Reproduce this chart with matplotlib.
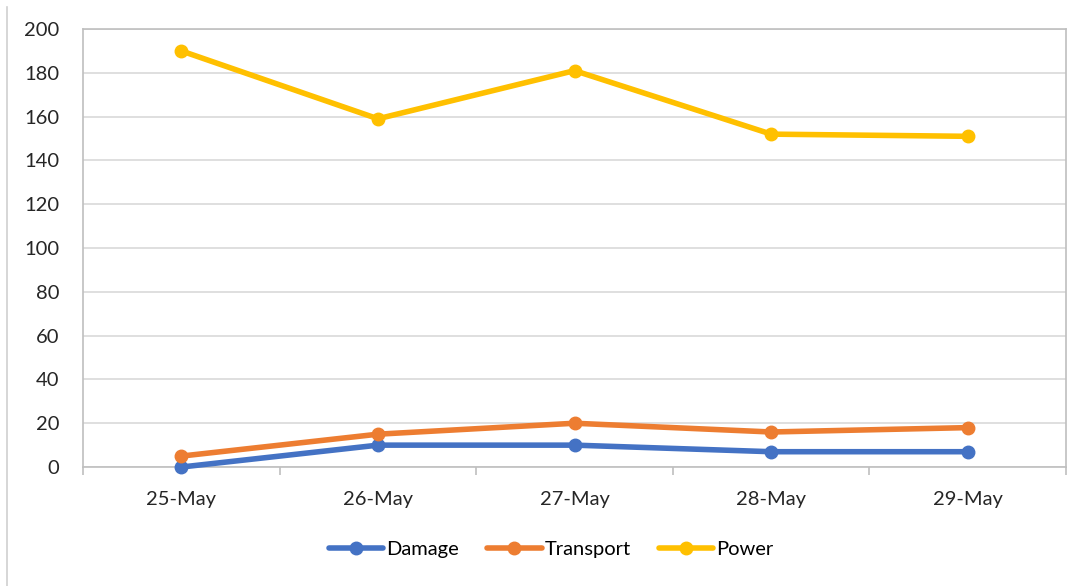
"""Excel-style line chart of daily incident counts."""

import matplotlib

matplotlib.use("Agg")
import matplotlib.pyplot as plt
import numpy as np
from matplotlib.lines import Line2D

dates = ["25-May", "26-May", "27-May", "28-May", "29-May"]
damage = [0, 10, 10, 7, 7]
transport = [5, 15, 20, 16, 18]
power = [190, 159, 181, 152, 151]

series = [
    ("Damage", damage, "#4472C4"),
    ("Transport", transport, "#ED7D31"),
    ("Power", power, "#FFC000"),
]

plt.rcParams["font.family"] = ["Lato", "DejaVu Sans"]

fig = plt.figure(figsize=(10.81, 5.86), dpi=100)
ax = fig.add_axes([0.0768, 0.203, 0.9094, 0.7475])

x = np.arange(len(dates))
for name, values, color in series:
    ax.plot(x, values, color=color, linewidth=4, marker="o", markersize=9,
            label=name, solid_capstyle="round", zorder=3, clip_on=False)

ax.set_xlim(-0.5, len(dates) - 0.5)
ax.set_ylim(0, 200)
ax.set_yticks(range(0, 201, 20))
ax.set_xticks(x)
ax.set_xticklabels(dates)
ax.set_xticks(np.arange(-0.5, len(dates), 1.0), minor=True)

ax.grid(axis="y", color="#d9d9d9", linewidth=1.2, zorder=0)
for side in ["left", "right", "top", "bottom"]:
    ax.spines[side].set_color("#bfbfbf")
    ax.spines[side].set_linewidth(1.2)

ax.tick_params(axis="y", length=0, pad=17, labelsize=14.5, labelcolor="#262626")
ax.tick_params(axis="x", which="major", length=0, pad=17, labelsize=14.5, labelcolor="#262626")
ax.tick_params(axis="x", which="minor", length=6, color="#bfbfbf", width=1.2)

fig.legend(loc="center", bbox_to_anchor=(0.51, 0.063), ncol=3, frameon=False,
           fontsize=14.5, handlelength=2.7, handletextpad=0.15, columnspacing=1.4)

fig.add_artist(Line2D([0.0065, 0.0065], [0.0, 0.988], color="#d0d0d0", linewidth=1.2))

fig.savefig("out.png", dpi=100)
